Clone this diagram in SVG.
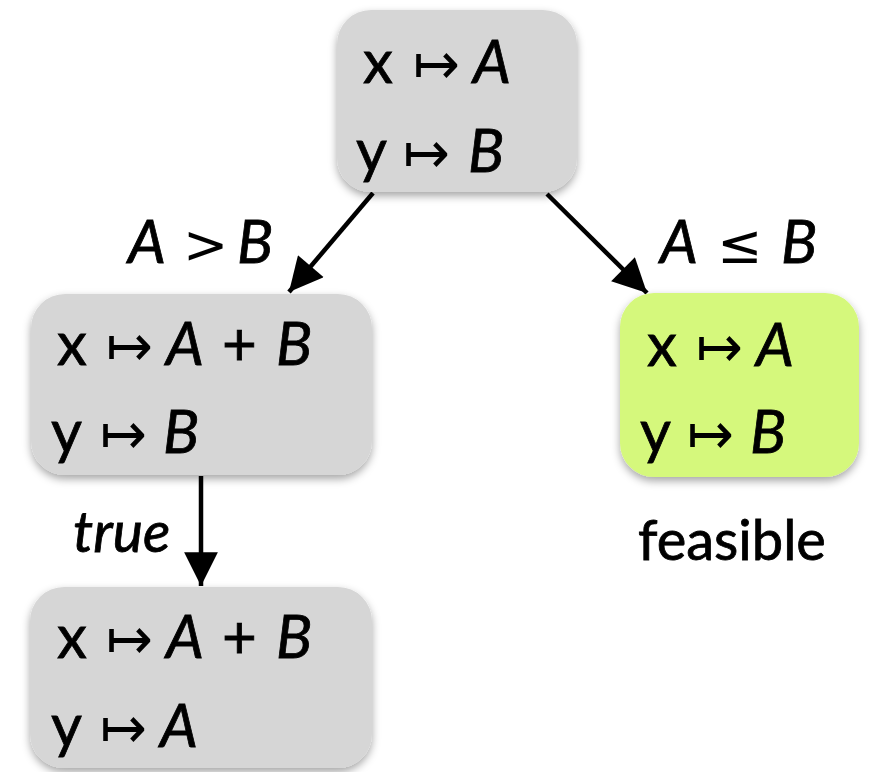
<svg xmlns="http://www.w3.org/2000/svg" width="872" height="772" viewBox="0 0 872 772">
<defs>
<filter id="sh" x="-10%" y="-10%" width="120%" height="130%">
<feDropShadow dx="0" dy="4" stdDeviation="4" flood-color="#000" flood-opacity="0.35"/>
</filter>
<marker id="ah" viewBox="0 0 10 10" refX="10" refY="5" markerWidth="8.5" markerHeight="7.5" markerUnits="strokeWidth" orient="auto">
<path d="M0,0 L10,5 L0,10 Z" fill="#000"/>
</marker>
<style>
.box{fill:#d6d6d6;filter:url(#sh)}
.green{fill:#d5f87b;filter:url(#sh)}
text{font-family:Lato,"Open Sans","DejaVu Sans",sans-serif;font-size:60px;fill:#000;stroke:#000;stroke-width:0.8}
.i{font-style:italic}
.ar{font-family:"DejaVu Sans",sans-serif;font-size:56px;font-weight:200;stroke-width:0}
.op{font-family:"DejaVu Sans",sans-serif;font-size:54px;stroke-width:0}
.edge{stroke:#000;stroke-width:4.5;fill:none;marker-end:url(#ah)}
</style>
</defs>
<g id="connectors">
<line class="edge" x1="373" y1="193" x2="289" y2="292"/>
<line class="edge" x1="547" y1="194" x2="647" y2="293"/>
<line class="edge" x1="201" y1="476" x2="201" y2="586"/>
</g>
<g id="node-top">
<rect class="box" x="337" y="10" width="240" height="182" rx="34"/>
<text y="83"><tspan x="363">x</tspan><tspan class="ar" x="413">↦</tspan><tspan class="i" x="473">A</tspan></text>
<text y="172"><tspan x="356">y</tspan><tspan class="ar" x="403">↦</tspan><tspan class="i" x="468">B</tspan></text>
</g>
<g id="node-left">
<rect class="box" x="31" y="294" width="341" height="181" rx="34"/>
<text y="365"><tspan x="57">x</tspan><tspan class="ar" x="106">↦</tspan><tspan class="i" x="166">A</tspan><tspan x="222">+</tspan><tspan class="i" x="276">B</tspan></text>
<text y="453"><tspan x="51">y</tspan><tspan class="ar" x="100">↦</tspan><tspan class="i" x="163">B</tspan></text>
</g>
<g id="node-feasible">
<rect class="green" x="620" y="293" width="239" height="184" rx="34"/>
<text y="366"><tspan x="647">x</tspan><tspan class="ar" x="696">↦</tspan><tspan class="i" x="756">A</tspan></text>
<text y="453"><tspan x="640">y</tspan><tspan class="ar" x="687">↦</tspan><tspan class="i" x="750">B</tspan></text>
</g>
<g id="node-bottom">
<rect class="box" x="30" y="587" width="342" height="181" rx="34"/>
<text y="658"><tspan x="57">x</tspan><tspan class="ar" x="106">↦</tspan><tspan class="i" x="166">A</tspan><tspan x="222">+</tspan><tspan class="i" x="276">B</tspan></text>
<text y="747"><tspan x="51">y</tspan><tspan class="ar" x="100">↦</tspan><tspan class="i" x="160">A</tspan></text>
</g>
<g id="labels">
<text y="263"><tspan class="i" x="128">A</tspan><tspan class="op" x="183">&gt;</tspan><tspan class="i" x="237">B</tspan></text>
<text y="263"><tspan class="i" x="660">A</tspan><tspan class="op" x="717">≤</tspan><tspan class="i" x="781">B</tspan></text>
<text class="i" x="73" y="552" style="font-size:57px">true</text>
<text x="638" y="560" style="font-size:56px">feasible</text>
</g>
</svg>
